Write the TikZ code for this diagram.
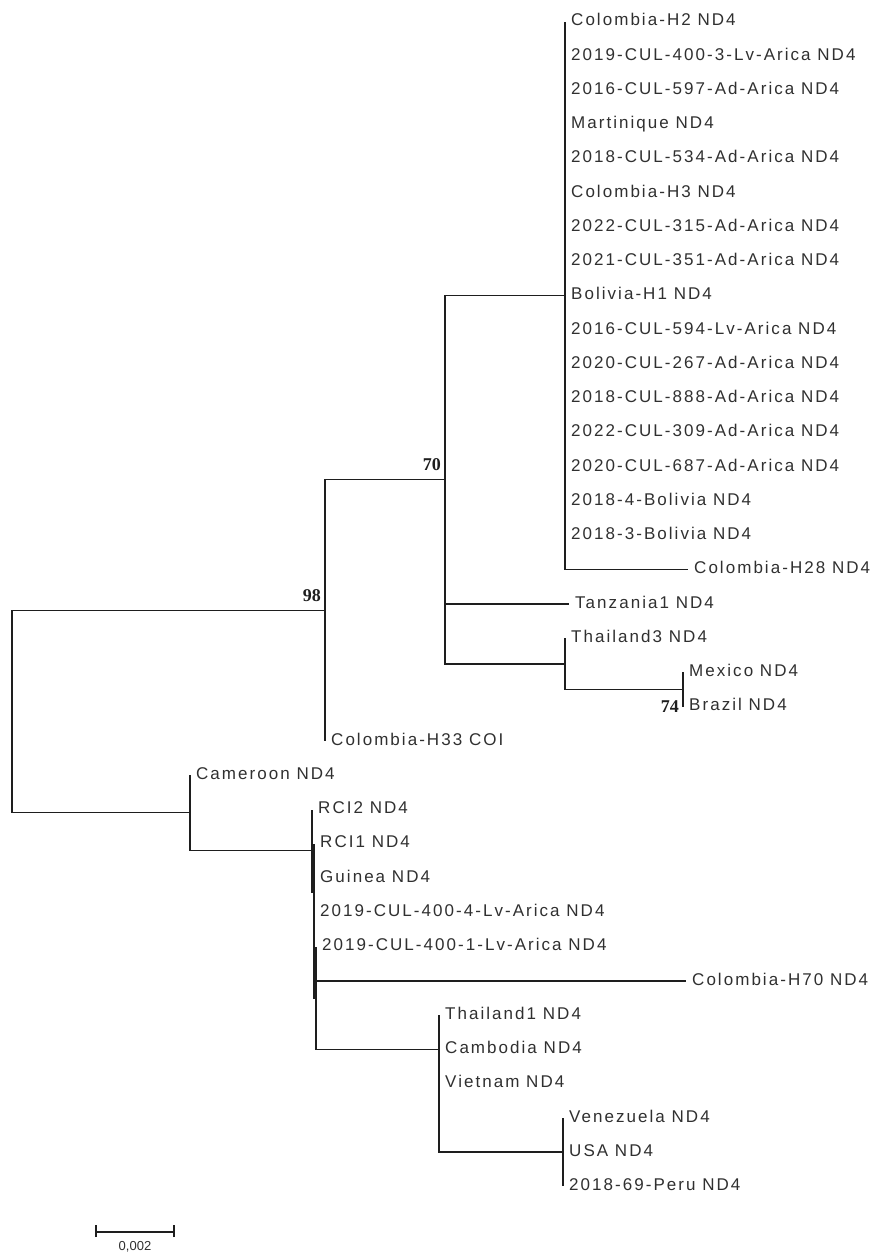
\documentclass[tikz,border=0pt]{standalone}
\usepackage{fontspec}
\setmainfont{Liberation Sans}
\newfontfamily\leaffont[LetterSpace=12]{Liberation Sans}
\newfontfamily\bootfont{Liberation Serif}
\usetikzlibrary{positioning}
\definecolor{treeline}{HTML}{1E1E1E}
\definecolor{taxontext}{HTML}{303030}
\tikzset{
  branch/.style={draw=treeline, line width=1.5pt},
  taxon/.style={anchor=west, inner sep=0pt, text=taxontext, text height=12pt, text depth=3.5pt,
    font=\leaffont\fontsize{17}{18}\selectfont},
  boot/.style={anchor=east, inner sep=0pt, text=treeline, font=\bootfont\bfseries\fontsize{18}{18}\selectfont},
  node distance=6pt
}
\begin{document}
\begin{tikzpicture}[x=1pt,y=-1pt]
\useasboundingbox[fill=white] (0,0) rectangle (877,1256);
\coordinate (root) at (12,711.5);
\coordinate (n98) at (325,610.4);
\coordinate (n70) at (445,479.7);
\coordinate (ctop) at (565,295.6);
\coordinate (cth3) at (565,663.9);
\coordinate (cmb) at (683,689.5);
\coordinate (ccam) at (190,812.6);
\coordinate (nrci) at (312,850.7);
\coordinate (ngui) at (314,892);
\coordinate (n400) at (316,997.9);
\coordinate (cth1) at (439,1049.3);
\coordinate (cven) at (563,1152.1);
\coordinate (tH2) at (565,21.5);
\coordinate (t4003) at (565,55.8);
\coordinate (t597) at (565,90.0);
\coordinate (tMar) at (565,124.3);
\coordinate (t534) at (565,158.5);
\coordinate (tH3) at (565,192.8);
\coordinate (t315) at (565,227.1);
\coordinate (t351) at (565,261.3);
\coordinate (tBoH1) at (565,295.6);
\coordinate (t594) at (565,329.8);
\coordinate (t267) at (565,364.1);
\coordinate (t888) at (565,398.4);
\coordinate (t309) at (565,432.6);
\coordinate (t687) at (565,466.9);
\coordinate (tBo4) at (565,501.1);
\coordinate (tBo3) at (565,535.4);
\coordinate (tH28) at (688,569.7);
\coordinate (tTan) at (569,603.9);
\coordinate (tTh3) at (565,638.2);
\coordinate (tMex) at (683,672.4);
\coordinate (tBra) at (683,706.7);
\coordinate (tH33) at (325,741.0);
\coordinate (tCam) at (190,775.2);
\coordinate (tRCI2) at (312,809.5);
\coordinate (tRCI1) at (314,843.7);
\coordinate (tGui) at (314,878.0);
\coordinate (t4004) at (314,912.3);
\coordinate (t4001) at (316,946.5);
\coordinate (tH70) at (686,980.8);
\coordinate (tTh1) at (439,1015.0);
\coordinate (tCmb) at (439,1049.3);
\coordinate (tVie) at (439,1083.6);
\coordinate (tVen) at (563,1117.8);
\coordinate (tUSA) at (563,1152.1);
\coordinate (tPer) at (563,1186.3);
\draw[branch] (root) |- (n98) (root) |- (ccam);
\draw[branch] (n98) |- (n70) (n98) |- (tH33);
\draw[branch] (n70) |- (ctop) (n70) |- (tTan) (n70) |- (cth3);
\draw[branch] (ctop) |- (tH2) (ctop) |- (t4003) (ctop) |- (t597) (ctop) |- (tMar)
  (ctop) |- (t534) (ctop) |- (tH3) (ctop) |- (t315) (ctop) |- (t351) (ctop) |- (tBoH1)
  (ctop) |- (t594) (ctop) |- (t267) (ctop) |- (t888) (ctop) |- (t309) (ctop) |- (t687)
  (ctop) |- (tBo4) (ctop) |- (tBo3) (ctop) |- (tH28);
\draw[branch] (cth3) |- (tTh3) (cth3) |- (cmb);
\draw[branch] (cmb) |- (tMex) (cmb) |- (tBra);
\draw[branch] (ccam) |- (tCam) (ccam) |- (nrci);
\draw[branch] (nrci) |- (tRCI2) (nrci) |- (ngui);
\draw[branch] (ngui) |- (tRCI1) (ngui) |- (tGui) (ngui) |- (t4004) (ngui) |- (n400);
\draw[branch] (n400) |- (t4001) (n400) |- (tH70) (n400) |- (cth1);
\draw[branch] (cth1) |- (tTh1) (cth1) |- (tCmb) (cth1) |- (tVie) (cth1) |- (cven);
\draw[branch] (cven) |- (tVen) (cven) |- (tUSA) (cven) |- (tPer);
\node[taxon, right=of tH2] (lH2) {Colombia-H2 ND4};
\node[taxon, right=of t4003] (l4003) {2019-CUL-400-3-Lv-Arica ND4};
\node[taxon, right=of t597] (l597) {2016-CUL-597-Ad-Arica ND4};
\node[taxon, right=of tMar] (lMar) {Martinique ND4};
\node[taxon, right=of t534] (l534) {2018-CUL-534-Ad-Arica ND4};
\node[taxon, right=of tH3] (lH3) {Colombia-H3 ND4};
\node[taxon, right=of t315] (l315) {2022-CUL-315-Ad-Arica ND4};
\node[taxon, right=of t351] (l351) {2021-CUL-351-Ad-Arica ND4};
\node[taxon, right=of tBoH1] (lBoH1) {Bolivia-H1 ND4};
\node[taxon, right=of t594] (l594) {2016-CUL-594-Lv-Arica ND4};
\node[taxon, right=of t267] (l267) {2020-CUL-267-Ad-Arica ND4};
\node[taxon, right=of t888] (l888) {2018-CUL-888-Ad-Arica ND4};
\node[taxon, right=of t309] (l309) {2022-CUL-309-Ad-Arica ND4};
\node[taxon, right=of t687] (l687) {2020-CUL-687-Ad-Arica ND4};
\node[taxon, right=of tBo4] (lBo4) {2018-4-Bolivia ND4};
\node[taxon, right=of tBo3] (lBo3) {2018-3-Bolivia ND4};
\node[taxon, right=of tH28] (lH28) {Colombia-H28 ND4};
\node[taxon, right=of tTan] (lTan) {Tanzania1 ND4};
\node[taxon, right=of tTh3] (lTh3) {Thailand3 ND4};
\node[taxon, right=of tMex] (lMex) {Mexico ND4};
\node[taxon, right=of tBra] (lBra) {Brazil ND4};
\node[taxon, right=of tH33] (lH33) {Colombia-H33 COI};
\node[taxon, right=of tCam] (lCam) {Cameroon ND4};
\node[taxon, right=of tRCI2] (lRCI2) {RCI2 ND4};
\node[taxon, right=of tRCI1] (lRCI1) {RCI1 ND4};
\node[taxon, right=of tGui] (lGui) {Guinea ND4};
\node[taxon, right=of t4004] (l4004) {2019-CUL-400-4-Lv-Arica ND4};
\node[taxon, right=of t4001] (l4001) {2019-CUL-400-1-Lv-Arica ND4};
\node[taxon, right=of tH70] (lH70) {Colombia-H70 ND4};
\node[taxon, right=of tTh1] (lTh1) {Thailand1 ND4};
\node[taxon, right=of tCmb] (lCmb) {Cambodia ND4};
\node[taxon, right=of tVie] (lVie) {Vietnam ND4};
\node[taxon, right=of tVen] (lVen) {Venezuela ND4};
\node[taxon, right=of tUSA] (lUSA) {USA ND4};
\node[taxon, right=of tPer] (lPer) {2018-69-Peru ND4};
\node[boot] (b70) at (441,465) {70};
\node[boot] (b98) at (321,596) {98};
\node[boot] (b74) at (679,707) {74};
\coordinate (sbL) at (96,1232);
\coordinate (sbR) at (174,1232);
\draw[branch, line width=1.2pt] (sbL) -- (sbR);
\draw[branch, line width=1.2pt] ([yshift=-5]sbL) -- ([yshift=7]sbL) ([yshift=-5]sbR) -- ([yshift=7]sbR);
\node[inner sep=0pt, text=taxontext, font=\fontsize{13}{14}\selectfont] (sblab) at (135,1247) {0,002};
\end{tikzpicture}
\end{document}
